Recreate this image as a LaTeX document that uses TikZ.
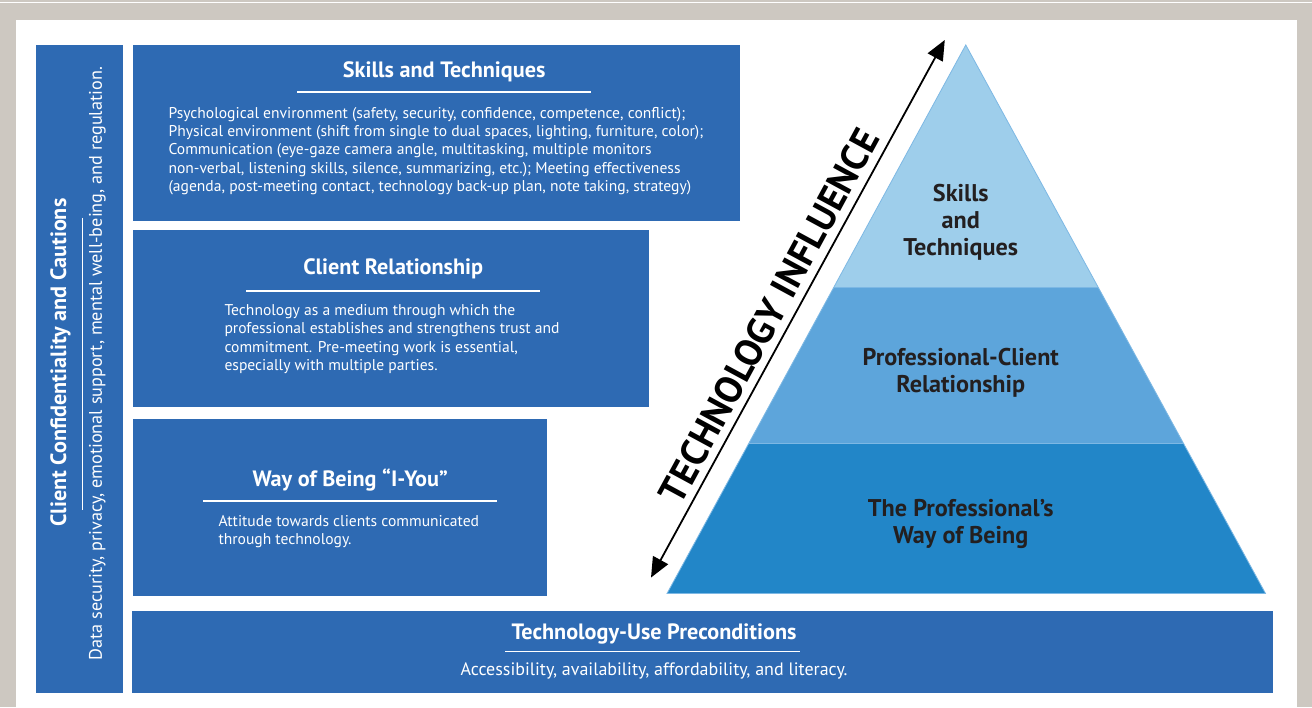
\documentclass[tikz,border=0pt]{standalone}
\usepackage{fontspec}
\setmainfont{PT Sans}
\usetikzlibrary{arrows.meta}
\definecolor{framegray}{HTML}{CDC8C1}
\definecolor{boxblue}{HTML}{2E6AB3}
\definecolor{pyrtop}{HTML}{9ECEEB}
\definecolor{pyrmid}{HTML}{5DA5DB}
\definecolor{pyrbot}{HTML}{2286C8}
\definecolor{pyredge}{HTML}{7DB8E4}
\definecolor{darktext}{HTML}{231F20}

\begin{document}
\begin{tikzpicture}[x=1pt,y=-1pt,
  panel/.style={fill=boxblue, inner sep=0pt, anchor=north west},
  headtext/.style={text=white, inner sep=0pt, font=\fontsize{22.2}{24}\selectfont\bfseries},
  bodytext/.style={text=white, inner sep=0pt, align=left, anchor=north west, font=\fontsize{15.6}{18.3}\selectfont},
  rule/.style={draw=white, line width=1.8pt},
  layertext/.style={text=darktext, align=center, inner sep=0pt, font=\fontsize{24.2}{26.8}\selectfont\bfseries}]
%\draw[help lines] (0,0) grid[step=50] (1312,708);

 % frame
 \fill[framegray] (0,0) rectangle (1312,708);
 \draw[white, line width=1pt] (0,3) -- (1312,3);
 \fill[white] (16,20) rectangle (1297,708);

 % left bar
 \node[panel, minimum width=87pt, minimum height=648pt] (caution) at (35,45) {};
 \node[headtext, rotate=90] (cautionTitle) at (60,363) {Client Confidentiality and Cautions};
 \draw[rule] (82,218) -- (82,510);
 \node[text=white, inner sep=0pt, rotate=90, font=\fontsize{18.2}{20}\selectfont] (cautionText) at (97,364)
   {Data security, privacy, emotional support, mental well-being, and regulation.};

 % skills box
 \node[panel, minimum width=608pt, minimum height=176pt] (skills) at (132,45) {};
 \node[headtext] (skillsTitle) at (444,72) {Skills and Techniques};
 \draw[rule] (297,92) -- (591,92);
 \node[bodytext] (skillsText) at (168,107)
   {Psychological environment (safety, security, confidence, competence, conflict);\\
    Physical environment (shift from single to dual spaces, lighting, furniture, color);\\
    Communication (eye-gaze camera angle, multitasking, multiple monitors\\
    non-verbal, listening skills, silence, summarizing, etc.); Meeting effectiveness\\
    (agenda, post-meeting contact, technology back-up plan, note taking, strategy)};

 % relationship box
 \node[panel, minimum width=517pt, minimum height=177pt] (relation) at (132,230) {};
 \node[headtext] (relationTitle) at (393,269) {Client Relationship};
 \draw[rule] (246,291) -- (540,291);
 \node[bodytext] (relationText) at (224,304.5)
   {Technology as a medium through which the\\
    professional establishes and strengthens trust and\\
    commitment. Pre-meeting work is essential,\\
    especially with multiple parties.};

 % way of being box
 \node[panel, minimum width=415pt, minimum height=177pt] (being) at (132,419) {};
 \node[headtext] (beingTitle) at (350,480) {Way of Being ``I-You''};
 \draw[rule] (203,501) -- (497,501);
 \node[bodytext] (beingText) at (218,515.5)
   {Attitude towards clients communicated\\
    through technology.};

 % preconditions box
 \node[panel, minimum width=1142pt, minimum height=82pt] (precond) at (131,611) {};
 \node[headtext] (precondTitle) at (654,634) {Technology-Use Preconditions};
 \draw[rule] (505,652) -- (800,652);
 \node[text=white, inner sep=0pt, font=\fontsize{18}{20}\selectfont] (precondText) at (654,671)
   {Accessibility, availability, affordability, and literacy.};

 % pyramid
 \fill[pyrbot] (667,594) -- (1266,594) -- (1184,444) -- (748.7,444) -- cycle;
 \fill[pyrmid] (748.7,444) -- (1184,444) -- (1098.8,288) -- (833.7,288) -- cycle;
 \fill[pyrtop] (833.7,288) -- (1098.8,288) -- (966,45) -- cycle;
 \draw[pyredge, line width=0.8pt] (966,45) -- (1266,594) -- (667,594) -- cycle;
 \draw[pyredge, line width=0.6pt] (833.7,288) -- (1098.8,288);
 \draw[pyredge, line width=0.6pt] (748.7,444) -- (1184,444);

 \node[layertext] (layerSkills) at (961,222.5) {Skills\\and\\Techniques};
 \node[layertext] (layerRelation) at (961,373) {Professional-Client\\Relationship};
 \node[layertext] (layerBeing) at (961,524) {The Professional's\\Way of Being};

 % technology influence
 \coordinate (lowEnd) at (651,578);
 \coordinate (highEnd) at (945,40);
 \draw[line width=1.8pt, {Triangle[length=20pt,width=17pt]}-{Triangle[length=20pt,width=17pt]}] (lowEnd) -- (highEnd);
 \node[rotate=61.5, inner sep=0pt, font=\fontsize{38}{38}\selectfont\bfseries] (techInfluence) at (769,316) {TECHNOLOGY INFLUENCE};

\end{tikzpicture}
\end{document}
